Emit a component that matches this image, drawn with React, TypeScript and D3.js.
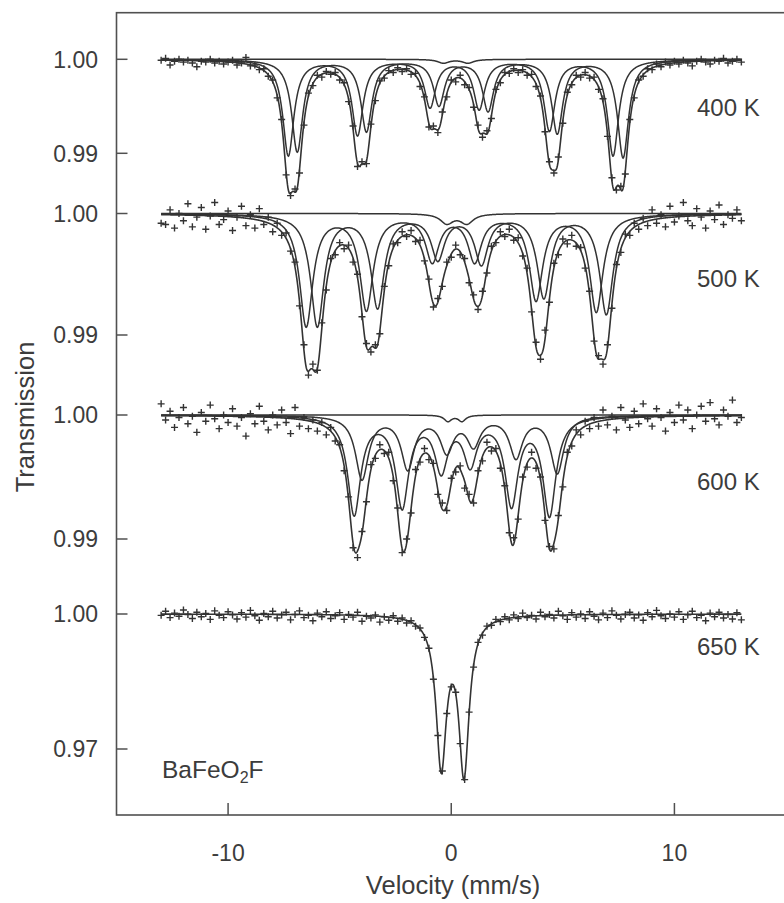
import React from "react";
import * as d3 from "d3";

// spectrometer channels: -13 .. 13 mm/s, 0.2 mm/s apart
const V_START = -13;
const V_STEP = 0.2;

// measured absorption (1 - T) x 1e4, one value per channel
const obs400 = [
  1, -1, 6, 2, 0, 3, 1, 4, 8, 2,
  3, 0, 4, 2, 5, 3, 1, 6, 4, -2,
  7, 6, 11, 10, 18, 22, 41, 64, 123, 145,
  138, 121, 70, 36, 28, 17, 19, 13, 16, 14,
  22, 25, 45, 71, 114, 109, 111, 69, 44, 23,
  20, 12, 14, 9, 13, 10, 16, 15, 29, 40,
  72, 71, 78, 56, 40, 22, 24, 17, 27, 30,
  51, 70, 83, 76, 63, 32, 25, 14, 15, 10,
  14, 11, 17, 16, 29, 39, 77, 109, 121, 104,
  68, 35, 27, 17, 19, 14, 20, 19, 32, 42,
  82, 126, 139, 135, 122, 64, 41, 22, 18, 10,
  11, 5, 8, 3, 6, 2, 5, 1, 4, 7,
  2, 0, 3, 5, 1, 2, -1, 4, 2, 0,
  3,
];
const obs500 = [
  8, 9, -3, 12, 0, 6, -8, 11, 3, -5,
  13, 2, -9, 9, 5, -2, 14, 3, -6, 10,
  1, 12, -4, 9, 3, 15, 8, 18, 16, 31,
  40, 76, 108, 133, 124, 129, 90, 63, 37, 34,
  24, 29, 26, 40, 50, 85, 107, 114, 108, 99,
  60, 43, 25, 24, 15, 19, 14, 23, 22, 39,
  54, 77, 70, 60, 40, 36, 26, 34, 37, 57,
  67, 79, 64, 49, 27, 24, 15, 19, 13, 22,
  20, 35, 45, 81, 106, 120, 96, 73, 41, 34,
  21, 25, 18, 27, 28, 45, 64, 105, 117, 124,
  108, 78, 42, 32, 17, 18, 8, 13, 4, 10,
  -3, 8, 1, 11, -6, 7, 2, -9, 6, 10,
  -4, 3, 12, -2, 5, -7, 9, 1, 4, -3,
  6,
];
const obs600 = [
  -9, 4, -3, 10, 2, -6, 7, 1, 14, -2,
  5, -8, 3, 11, 0, 6, -5, 9, 2, 17,
  -1, 7, -7, 5, 12, 0, 8, -4, 6, 15,
  -6, 9, 2, 11, 4, 13, 6, 16, 10, 21,
  24, 45, 66, 107, 115, 94, 70, 40, 35, 24,
  31, 30, 53, 75, 111, 100, 79, 44, 38, 27,
  36, 39, 64, 71, 77, 51, 46, 41, 59, 64,
  71, 45, 37, 22, 29, 27, 43, 57, 95, 99,
  84, 50, 42, 30, 43, 50, 85, 106, 108, 81,
  58, 30, 25, 12, 16, 5, 11, 2, 9, -4,
  8, 1, 12, -6, 4, 10, -3, 7, -9, 3,
  9, -5, 2, 13, -2, 6, -8, 4, -4, 11,
  0, -7, 5, -10, 3, 8, -4, 1, -12, 6,
  2,
];
const obs650 = [
  3, -6, 8, -2, 5, -9, 1, 10, -4, 6,
  -1, 12, -7, 3, 8, -5, 2, 11, -3, 7,
  -8, 4, 14, -1, 6, -6, 9, 2, -4, 13,
  1, -7, 8, 3, 15, -2, 6, -5, 10, 4,
  -3, 12, 1, 7, -4, 16, 5, 9, 2, 18,
  6, 14, 4, 16, 9, 20, 15, 27, 31, 52,
  76, 145, 270, 349, 221, 162, 174, 288, 368, 218,
  118, 63, 47, 27, 25, 12, 17, 6, 13, 2,
  10, -2, 8, 3, 11, -4, 6, 1, 9, -6,
  4, 12, -3, 7, 0, 10, -5, 5, 13, -2,
  8, -7, 3, 11, 1, -4, 9, 2, 14, -3,
  6, -8, 4, 10, 0, 7, -5, 12, 2, -6,
  8, 3, 15, -2, 6, -4, 9, 1, 11, -3,
  13,
];

// fitted subspectra: line positions (mm/s), depths (x 1e-4), half widths (mm/s)
const pos400A = [-7.3, -4.2, -0.95, 1.25, 4.4, 7.25];
const dep400A = [102, 80, 50, 52, 75, 102];
const pos400B = [-6.9, -3.8, -0.55, 1.65, 4.75, 7.7];
const dep400B = [98, 76, 48, 54, 78, 104];
const pos400C = [-0.35, 0.75];
const dep400C = [4, 4];

const pos500A = [-6.5, -3.8, -0.85, 1.05, 3.8, 6.5];
const dep500A = [92, 78, 38, 38, 70, 80];
const pos500B = [-6.0, -3.3, -0.6, 1.35, 4.15, 6.95];
const dep500B = [92, 76, 36, 40, 68, 82];
const pos500C = [-0.2, 0.7];
const dep500C = [8, 8];

const pos600A = [-4.35, -2.2, -0.45, 0.85, 2.7, 4.4];
const dep600A = [79, 72, 42, 37, 70, 79];
const pos600B = [-4.0, -1.95, -0.2, 1.0, 2.9, 4.75];
const dep600B = [51, 42, 28, 23, 33, 46];
const pos600C = [-0.15, 0.48];
const dep600C = [5, 5];

const pos650 = [-0.45, 0.57];
const dep650 = [330, 345];

const temps = ["400 K", "500 K", "600 K", "650 K"];
const xTicks = [-10, 0, 10];

type Sub = { pos: number[]; dep: number[]; hw: number };

const absorb = (subs: Sub[], v: number) =>
  d3.sum(subs, (s) =>
    d3.sum(s.pos, (p, i) => (s.dep[i] * 1e-4) / (1 + ((v - p) / s.hw) ** 2))
  );

const panels = [
  {
    obs: obs400, low: 0.99, yTop: 59.3, yLow: 153.3, labelY: 116,
    subs: [
      { pos: pos400A, dep: dep400A, hw: 0.3 },
      { pos: pos400B, dep: dep400B, hw: 0.3 },
      { pos: pos400C, dep: dep400C, hw: 0.3 },
    ],
  },
  {
    obs: obs500, low: 0.99, yTop: 213.5, yLow: 335, labelY: 287,
    subs: [
      { pos: pos500A, dep: dep500A, hw: 0.36 },
      { pos: pos500B, dep: dep500B, hw: 0.36 },
      { pos: pos500C, dep: dep500C, hw: 0.35 },
    ],
  },
  {
    obs: obs600, low: 0.99, yTop: 415, yLow: 539, labelY: 490,
    subs: [
      { pos: pos600A, dep: dep600A, hw: 0.35 },
      { pos: pos600B, dep: dep600B, hw: 0.35 },
      { pos: pos600C, dep: dep600C, hw: 0.2 },
    ],
  },
  {
    obs: obs650, low: 0.97, yTop: 614, yLow: 749, labelY: 655,
    subs: [{ pos: pos650, dep: dep650, hw: 0.28 }],
  },
];

const font = "'Liberation Sans', Arial, Helvetica, sans-serif";
const ink = "#333";
const textColor = "#3c3c3c";

export default function App() {
  const width = 784, height = 903;
  const left = 116.5, top = 12.7, bottom = 815, right = 786;

  const x = d3.scaleLinear().domain([-15, 15]).range([left, right]);
  const fitV = d3.range(-13, 13.0001, 0.02);
  const cross = "M-3.5,0H3.5M0,-3.5V3.5";

  return (
    <div style={{ position: "absolute", left: 0, top: 0 }}>
      <svg width={width} height={height} style={{ display: "block", background: "#fff" }}>
        <rect x={left} y={top} width={right - left} height={bottom - top}
          fill="none" stroke="#505050" strokeWidth={1.6} />

        {panels.map((pn, k) => {
          const y = d3.scaleLinear().domain([pn.low, 1]).range([pn.yLow, pn.yTop]);
          const curve = (subs: Sub[]) =>
            d3.line<number>()
              .x((v) => x(v))
              .y((v) => y(1 - absorb(subs, v)))(fitV) || "";
          return (
            <g key={k}>
              {[1, pn.low].map((t) => (
                <g key={t}>
                  <line x1={left} x2={left + 11} y1={y(t)} y2={y(t)} stroke="#505050" strokeWidth={1.5} />
                  <text x={98} y={y(t)} dy="0.36em" textAnchor="end"
                    fontFamily={font} fontSize={23} fill={textColor}>
                    {t.toFixed(2)}
                  </text>
                </g>
              ))}
              {pn.obs.map((a, i) => (
                <path key={i} d={cross}
                  transform={`translate(${x(V_START + V_STEP * i)},${y(1 - a * 1e-4)})`}
                  stroke={ink} strokeWidth={1.4} fill="none" />
              ))}
              {pn.subs.length > 1 &&
                pn.subs.map((s, j) => (
                  <path key={j} d={curve([s])} fill="none" stroke={ink} strokeWidth={1.5} />
                ))}
              <path d={curve(pn.subs)} fill="none" stroke={ink} strokeWidth={1.6} />
              <text x={697} y={pn.labelY} fontFamily={font} fontSize={24} fill={textColor}>
                {temps[k]}
              </text>
            </g>
          );
        })}

        {xTicks.map((t) => (
          <g key={t}>
            <line x1={x(t)} x2={x(t)} y1={bottom} y2={bottom - 12} stroke="#505050" strokeWidth={1.5} />
            <text x={x(t)} y={861} textAnchor="middle" fontFamily={font} fontSize={23} fill={textColor}>
              {t}
            </text>
          </g>
        ))}

        <text x={453} y={894} textAnchor="middle" fontFamily={font} fontSize={25.5} fill={textColor}>
          Velocity (mm/s)
        </text>
        <text transform="translate(25,417) rotate(-90)" textAnchor="middle" dy="0.36em"
          fontFamily={font} fontSize={25.5} fill={textColor}>
          Transmission
        </text>
        <text x={162} y={778} fontFamily={font} fontSize={24.5} fill={textColor}>
          BaFeO<tspan dy={5} fontSize={16}>2</tspan><tspan dy={-5}>F</tspan>
        </text>
      </svg>
    </div>
  );
}
